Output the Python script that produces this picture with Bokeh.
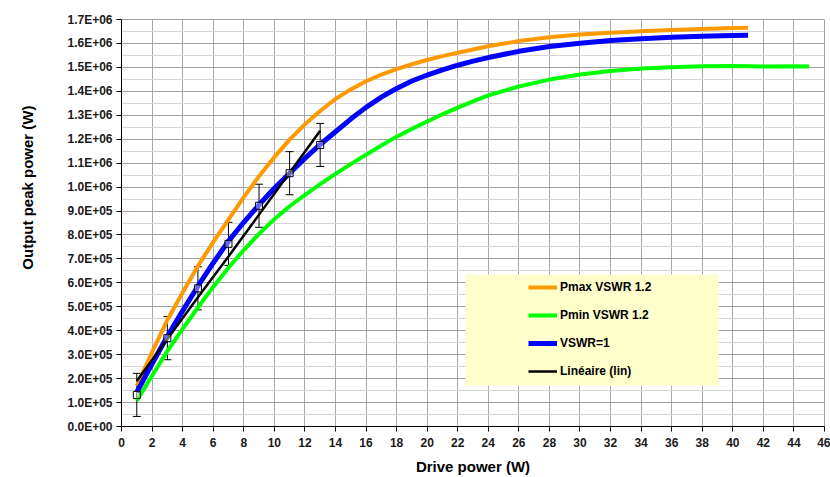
import math
from bokeh.plotting import figure
from bokeh.models import (FixedTicker, Range1d, Legend, LegendItem, Whisker,
                          ColumnDataSource, Title, BoxAnnotation, TeeHead)
from bokeh.embed import file_html
from bokeh.resources import INLINE

# ---------------- data ----------------
x_ticks = list(range(0, 47, 2))
y_ticks = [i * 1e5 for i in range(18)]
y_tick_labels = ["0.0E+00", "1.0E+05", "2.0E+05", "3.0E+05", "4.0E+05", "5.0E+05",
                 "6.0E+05", "7.0E+05", "8.0E+05", "9.0E+05", "1.0E+06", "1.1E+06",
                 "1.2E+06", "1.3E+06", "1.4E+06", "1.5E+06", "1.6E+06", "1.7E+06"]

x_41 = [1, 2, 3, 4, 5, 6, 7, 8, 9, 10, 11, 12, 13, 14, 15, 16, 17, 18, 19, 20,
        21, 22, 23, 24, 26, 28, 30, 32, 34, 36, 38, 40, 41]
pmax = [1.70e5, 3.10e5, 4.45e5, 5.60e5, 6.70e5, 7.70e5, 8.64e5, 9.58e5, 10.45e5,
        11.25e5, 11.98e5, 12.62e5, 13.18e5, 13.68e5, 14.08e5, 14.42e5, 14.70e5,
        14.93e5, 15.13e5, 15.31e5, 15.47e5, 15.61e5, 15.75e5, 15.88e5, 16.10e5,
        16.26e5, 16.37e5, 16.45e5, 16.51e5, 16.56e5, 16.60e5, 16.64e5, 16.66e5]
vswr1 = [1.43e5, 2.62e5, 3.77e5, 4.83e5, 5.86e5, 6.83e5, 7.74e5, 8.53e5, 9.26e5,
         9.95e5, 10.58e5, 11.20e5, 11.78e5, 12.31e5, 12.84e5, 13.33e5, 13.76e5,
         14.12e5, 14.43e5, 14.68e5, 14.90e5, 15.09e5, 15.26e5, 15.41e5, 15.67e5,
         15.87e5, 16.01e5, 16.12e5, 16.20e5, 16.26e5, 16.30e5, 16.33e5, 16.34e5]

x_45 = [1, 2, 3, 4, 5, 6, 7, 8, 9, 10, 11, 12, 13, 14, 15, 16, 17, 18, 19, 20,
        21, 22, 23, 24, 26, 28, 30, 32, 34, 36, 38, 40, 42, 44, 45]
pmin = [1.08e5, 2.12e5, 3.15e5, 4.08e5, 4.97e5, 5.83e5, 6.63e5, 7.37e5, 8.05e5,
        8.66e5, 9.20e5, 9.67e5, 10.12e5, 10.55e5, 10.96e5, 11.35e5, 11.74e5,
        12.10e5, 12.43e5, 12.74e5, 13.04e5, 13.32e5, 13.58e5, 13.83e5, 14.20e5,
        14.49e5, 14.70e5, 14.85e5, 14.95e5, 15.01e5, 15.05e5, 15.06e5, 15.04e5,
        15.05e5, 15.04e5]

x_meas = [1, 3, 5, 7, 9, 11, 13]
meas = [1.32e5, 3.69e5, 5.77e5, 7.63e5, 9.22e5, 10.58e5, 11.76e5]
meas_err = [0.9e5, 0.9e5, 0.9e5, 0.9e5, 0.9e5, 0.9e5, 0.9e5]
lin = [1.90e5, 3.65e5, 5.40e5, 7.10e5, 8.85e5, 10.60e5, 12.35e5]

FONT = "Liberation Sans"

p = figure(width=830, height=477, output_backend="svg", toolbar_location=None,
           x_range=Range1d(0, 46), y_range=Range1d(0, 1.7e6),
           min_border_left=121, min_border_right=6, min_border_top=19,
           min_border_bottom=49)
p.background_fill_color = "white"
p.border_fill_color = "white"
p.outline_line_color = "#a0a0a0"

# axes
p.xaxis.ticker = FixedTicker(ticks=x_ticks)
p.yaxis.ticker = FixedTicker(ticks=y_ticks, minor_ticks=[i * 5e4 for i in range(35)])
p.yaxis.major_label_overrides = {t: l for t, l in zip(y_ticks, y_tick_labels)}
for ax in (p.xaxis[0], p.yaxis[0]):
    ax.axis_line_color = "black"
    ax.major_tick_line_color = "black"
    ax.major_tick_out = 5
    ax.major_tick_in = 0
    ax.minor_tick_line_color = None
    ax.major_label_text_font = FONT
    ax.major_label_text_font_style = "bold"
    ax.major_label_text_font_size = "12px"
    ax.major_label_text_color = "#1a1a1a"
p.xaxis.major_label_standoff = 6
p.yaxis.major_label_standoff = 4
p.xaxis.axis_label = "Drive power (W)"
p.xaxis.axis_label_text_font = FONT
p.xaxis.axis_label_text_font_style = "bold"
p.xaxis.axis_label_text_font_size = "15px"
p.xaxis.axis_label_text_color = "black"
p.xaxis.axis_label_standoff = 8

# spacer label on y axis so that the real title sits further left
p.yaxis.axis_label = " "
p.yaxis.axis_label_text_font_size = "15px"
p.yaxis.axis_label_standoff = 9

# y title placed along the upper part of the axis (as in the reference)
ytitle = Title(text="Output peak power (W)", align="right", offset=86,
               text_font=FONT, text_font_style="bold", text_font_size="15px",
               text_color="black", standoff=0)
p.add_layout(ytitle, "left")

# grids
p.xgrid.grid_line_color = "#a8a8a8"
p.ygrid.grid_line_color = "#a0a0a0"
p.ygrid.minor_grid_line_color = "#d4d4d4"

# curves
r_min = p.line(x_45, pmin, line_color="#00FF00", line_width=4, line_join="round")
r_max = p.line(x_41, pmax, line_color="#FF9900", line_width=4, line_join="round")
r_v1 = p.line(x_41, vswr1, line_color="#0000FF", line_width=5, line_join="round")
r_lin = p.line(x_meas, lin, line_color="black", line_width=2.5)

# error bars
upper = [m + e for m, e in zip(meas, meas_err)]
lower = [m - e for m, e in zip(meas, meas_err)]
src = ColumnDataSource(data=dict(x=x_meas, upper=upper, lower=lower))
wh = Whisker(base="x", upper="upper", lower="lower", source=src,
             line_color="black", line_width=1,
             upper_head=TeeHead(size=8, line_color="black", line_width=1),
             lower_head=TeeHead(size=8, line_color="black", line_width=1))
p.add_layout(wh)
p.scatter(x_meas, meas, marker="square", size=7, line_color="black",
          fill_color="white", fill_alpha=0.4, line_width=1)

# legend background box
box = BoxAnnotation(left=22.52, right=39.07, bottom=1.705e5, top=6.35e5,
                    fill_color="#FFFFCC", fill_alpha=1.0, line_color=None)
p.add_layout(box)

legend = Legend(items=[LegendItem(label="Pmax VSWR 1.2", renderers=[r_max]),
                       LegendItem(label="Pmin VSWR 1.2", renderers=[r_min]),
                       LegendItem(label="VSWR=1", renderers=[r_v1]),
                       LegendItem(label="Linéaire (lin)", renderers=[r_lin])],
                location=(403, 41), glyph_width=29, glyph_height=20,
                label_height=20, spacing=8, padding=4, label_standoff=3,
                background_fill_alpha=0, border_line_alpha=0,
                label_text_font=FONT, label_text_font_style="bold",
                label_text_font_size="12px", label_text_color="black")
p.add_layout(legend)

open("out.html", "w").write(file_html(p, INLINE))
